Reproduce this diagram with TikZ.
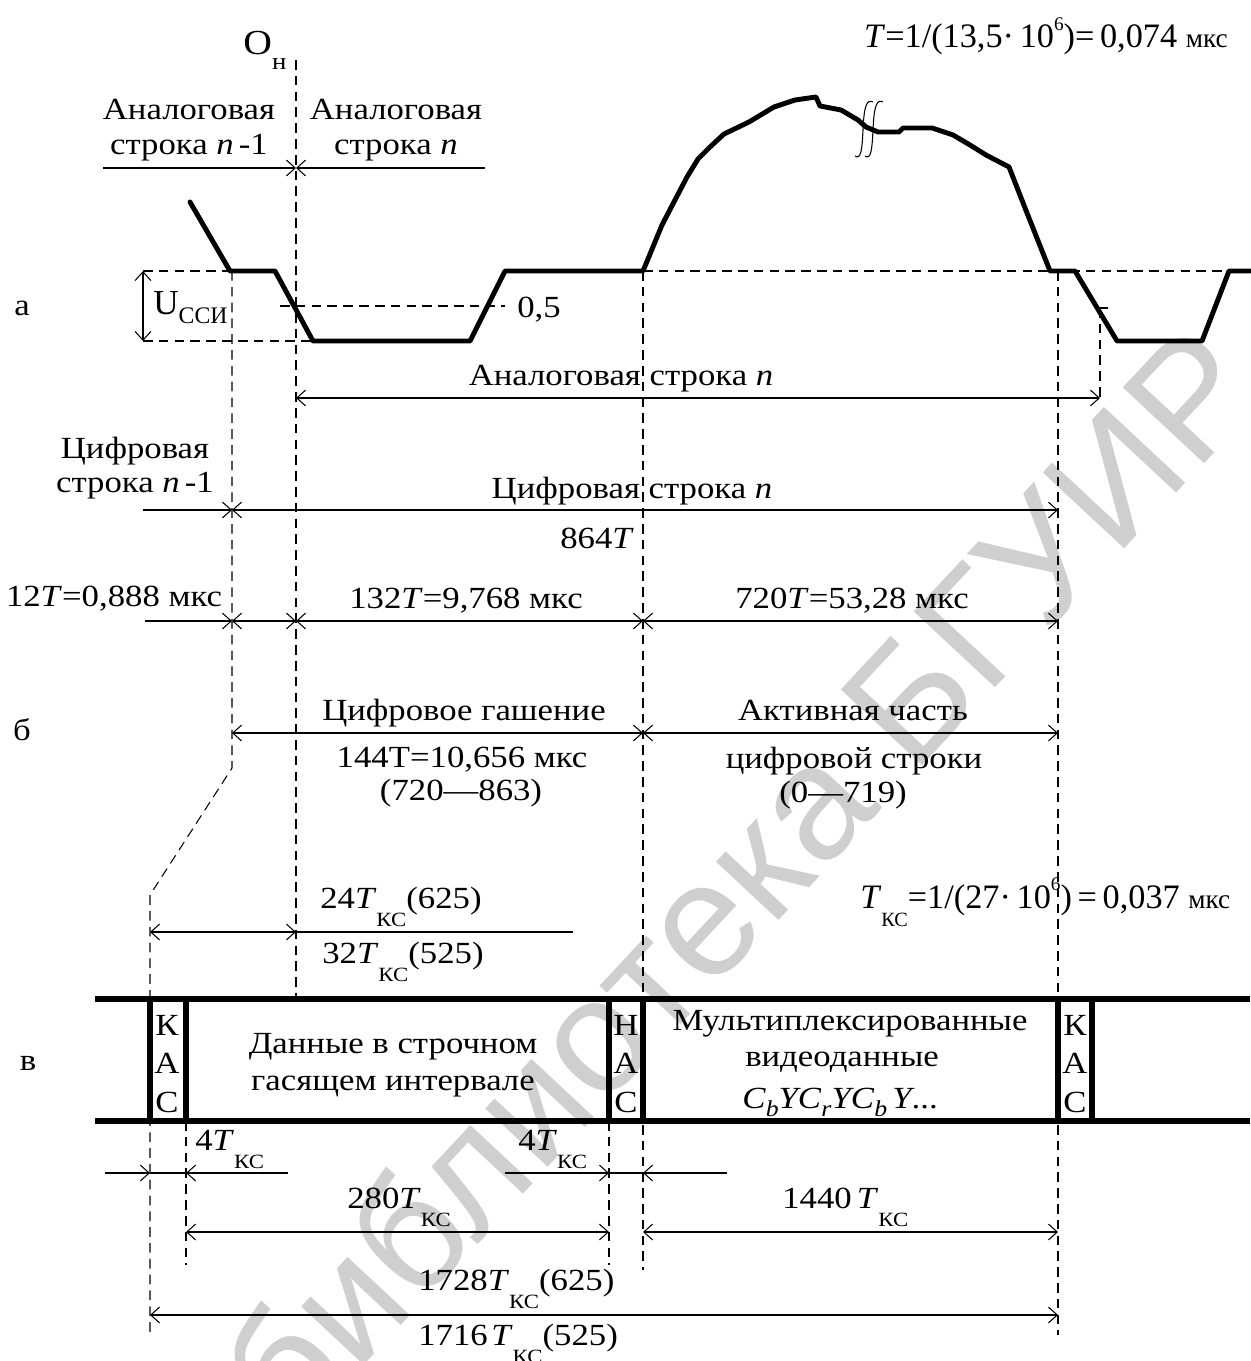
\documentclass[tikz,border=0pt]{standalone}
\usepackage{fontspec}
\setmainfont{Liberation Serif}[FakeStretch=1.13]
\newfontfamily\plainf{Liberation Serif}
\newfontfamily\wmfont{Liberation Sans}
\usetikzlibrary{arrows.meta}
\newcommand{\Tk}{\textit{T}\raisebox{-0.36cm}{\fontsize{11.5}{12}\selectfont КС}}
\newcommand{\supsix}{\raisebox{10pt}{\fontsize{11}{11}\selectfont 6}}
\newcommand{\mks}{{\fontsize{15.5}{15.5}\selectfont мкс}}
\tikzset{
  txt/.style={anchor=base, inner sep=0pt},
  txtw/.style={anchor=base west, inner sep=0pt},
  thin/.style={line width=0.6pt},
  tip/.tip={Straight Barb[length=5pt,width=9pt]},
  ar/.style={thin, -tip},
  arr/.style={thin, tip-tip},
  dsh/.style={line width=0.6pt, dash pattern=on 5.5pt off 3.5pt},
  wave/.style={line width=2.8pt, line join=round, line cap=round},
  blk/.style={line width=3.4pt},
  brk/.style={line width=0.6pt}
}
\begin{document}
\begin{tikzpicture}[x=0.02cm, y=-0.02cm, font=\fontsize{17.5}{20}\selectfont]
\useasboundingbox (0,0) rectangle (1250,1361);
\fill[white] (0,0) rectangle (1250,1361);
% watermark
\node[rotate=47, text=black!19, inner sep=0pt, font=\wmfont\fontsize{92}{92}\selectfont] (wm) at (738,878) {библиотека БГУИР};

% ---------- dashed guides
\coordinate (On) at (296,60);
\coordinate (OnB) at (296,999);
\draw[dsh] (On) -- (OnB);
\draw[dsh] (232,271) -- (232,768) -- (150,895) -- (150,1335);
\draw[dsh] (143,271) -- (232,271);
\draw[dsh] (143,341) -- (313,341);
\draw[dsh] (280,306) -- (505,306);
\draw[dsh] (643,271) -- (1250,271);
\draw[dsh] (643,271) -- (643,1270);
\draw[dsh] (1058,271) -- (1058,1335);
\draw[dsh] (1100,308) -- (1100,400);
\draw[thin] (1096,308) -- (1108,308);
\draw[dsh] (186,1121) -- (186,1265);
\draw[dsh] (609,1121) -- (609,1265);

% ---------- waveform (a)
\draw[wave] (190,202) -- (230,271) -- (275,271) -- (313,341) -- (470,341) -- (505,271) -- (643,271)
  -- (662,225) -- (675,200) -- (687,177) -- (698,159) -- (710,147) -- (724,134) -- (749,122)
  -- (774,107) -- (795,100) -- (816,97) -- (820,106) -- (841,110) -- (858,120) -- (866,127)
  -- (878,132) -- (899,132) -- (903,128) -- (932,128) -- (953,135) -- (970,145) -- (986,155)
  -- (1009,167) -- (1027,213) -- (1050,271) -- (1075,271) -- (1117,341) -- (1202,341)
  -- (1229,271) -- (1250,271);
\draw[brk] (855,156) .. controls (861,160) and (862,150) .. (863,130) .. controls (864,105) and (867,99) .. (873,102);
\draw[brk] (865,156) .. controls (871,160) and (872,150) .. (873,130) .. controls (874,105) and (877,99) .. (883,102);

% ---------- texts (a)
\node[inner sep=0pt, anchor=base east, font=\plainf\fontsize{19.5}{20}\selectfont] (Tf) at (1228,48) {\textit{T}=1/(13,5·\,10\supsix)=\,0,074 \mks};
\node[txtw] (Ol) at (243,55) {\fontsize{20}{20}\selectfont O\raisebox{-0.3cm}{\fontsize{13.5}{13}\selectfont н}};
\node[txt] (al1) at (189,120) {Аналоговая};
\node[txt] (al2) at (189,155) {строка \textit{n}\,-1};
\node[txt] (an1) at (396,120) {Аналоговая};
\node[txt] (an2) at (396,155) {строка \textit{n}};
\coordinate (hl) at (103,168); \coordinate (hm) at (296,168); \coordinate (hr) at (485,168);
\draw[ar] (hl) -- (hm);
\draw[ar] (hr) -- (hm);
\node[txt] (la) at (22,316) {а};
\coordinate (ut) at (143,271); \coordinate (ub) at (143,341);
\draw[arr] (ut) -- (ub);
\node[txtw] (uc) at (153,315) {\plainf\fontsize{20}{20}\selectfont U\raisebox{-0.17cm}{\fontsize{13.5}{13}\selectfont ССИ}};
\node[txt] (half) at (539,318) {0,5};
\node[txt] (ans) at (621,385) {Аналоговая строка \textit{n}};
\coordinate (as1) at (296,398); \coordinate (as2) at (1100,398);
\draw[arr] (as1) -- (as2);

% ---------- digital line
\node[txt] (cp1) at (135,458) {Цифровая};
\node[txt] (cp2) at (135,492) {строка \textit{n}\,-1};
\node[txt] (cn) at (632,498) {Цифровая строка \textit{n}};
\node[txt] (n864) at (597,548) {864\textit{T}};
\coordinate (d0) at (143,510); \coordinate (d1) at (232,510); \coordinate (d2) at (1058,510);
\draw[ar] (d0) -- (d1);
\draw[arr] (d1) -- (d2);

\node[txt] (t12) at (114,606) {12\textit{T}=0,888 мкс};
\node[txt] (t132) at (466,608) {132\textit{T}=9,768 мкс};
\node[txt] (t720) at (852,608) {720\textit{T}=53,28 мкс};
\coordinate (e0) at (145,621); \coordinate (e1) at (232,621); \coordinate (e2) at (296,621);
\coordinate (e3) at (643,621); \coordinate (e4) at (1058,621);
\draw[ar] (e0) -- (e1);
\draw[arr] (e1) -- (e2);
\draw[arr] (e2) -- (e3);
\draw[arr] (e3) -- (e4);

% ---------- (б)
\node[txt] (lb) at (22,740) {б};
\node[txt] (cg) at (464,720) {Цифровое гашение};
\node[txt] (cg2) at (462,767) {144T=10,656 мкс};
\node[txt] (cg3) at (461,800) {(720—863)};
\node[txt] (ac1) at (853,720) {Активная часть};
\node[txt] (ac2) at (854,768) {цифровой строки};
\node[txt] (ac3) at (843,802) {(0—719)};
\coordinate (f1) at (232,733); \coordinate (f2) at (643,733); \coordinate (f3) at (1058,733);
\draw[arr] (f1) -- (f2);
\draw[arr] (f2) -- (f3);

% ---------- (в)
\node[txtw] (k24) at (320,908) {24\Tk(625)};
\node[txtw] (k32) at (322,963) {32\Tk(525)};
\coordinate (g1) at (150,932); \coordinate (g2) at (296,932); \coordinate (g3) at (573,932);
\draw[arr] (g1) -- (g2);
\draw[thin] (g2) -- (g3);
\node[inner sep=0pt, anchor=base west, font=\plainf\fontsize{19.5}{20}\selectfont] (tkf) at (860,908) {\Tk=1/(27·\,10\supsix)\,=\,0,037 \mks};

\draw[blk] (95,999) -- (1250,999);
\draw[blk] (95,1121) -- (1250,1121);
\foreach \xx in {150,186,609,643,1058,1092} \draw[blk] (\xx,999) -- (\xx,1121);

\node[txt] (lv) at (28,1070) {в};
\node[txt] (k1a) at (167,1035) {К};
\node[txt] (k1b) at (167,1073) {А};
\node[txt] (k1c) at (167,1112) {С};
\node[txt] (dd1) at (393,1053) {Данные в строчном};
\node[txt] (dd2) at (393,1090) {гасящем интервале};
\node[txt] (h1a) at (626,1035) {Н};
\node[txt] (h1b) at (626,1073) {А};
\node[txt] (h1c) at (626,1112) {С};
\node[txt] (mv1) at (850,1030) {Мультиплексированные};
\node[txt] (mv2) at (842,1066) {видеоданные};
\node[txt] (mv3) at (840,1108) {\textit{C}\raisebox{-5pt}{\fontsize{13}{13}\selectfont\itshape b}\textit{YC}\raisebox{-5pt}{\fontsize{13}{13}\selectfont\itshape r}\textit{YC}\raisebox{-5pt}{\fontsize{13}{13}\selectfont\itshape b}\,\textit{Y}...};
\node[txt] (k2a) at (1075,1035) {К};
\node[txt] (k2b) at (1075,1073) {А};
\node[txt] (k2c) at (1075,1112) {С};

\node[txtw] (q4a) at (195,1150) {4\Tk};
\node[txtw] (q4b) at (518,1150) {4\Tk};
\coordinate (m0) at (105,1173); \coordinate (m1) at (150,1173); \coordinate (m2) at (186,1173); \coordinate (m3) at (288,1173);
\draw[ar] (m0) -- (m1);
\draw[thin] (m1) -- (m2);
\draw[ar] (m3) -- (m2);
\coordinate (p0) at (505,1173); \coordinate (p1) at (609,1173); \coordinate (p2) at (643,1173); \coordinate (p3) at (727,1173);
\draw[ar] (p0) -- (p1);
\draw[thin] (p1) -- (p2);
\draw[ar] (p3) -- (p2);

\node[txtw] (q280) at (347,1208) {280\Tk};
\node[txtw] (q1440) at (782,1208) {1440\,\Tk};
\coordinate (r1) at (186,1232); \coordinate (r2) at (609,1232); \coordinate (r3) at (643,1232); \coordinate (r4) at (1058,1232);
\draw[arr] (r1) -- (r2);
\draw[arr] (r3) -- (r4);

\node[txtw] (q1728) at (418,1290) {1728\Tk(625)};
\node[txtw] (q1716) at (418,1345) {1716\kern2pt\Tk(525)};
\coordinate (s1) at (150,1315); \coordinate (s2) at (1058,1315);
\draw[arr] (s1) -- (s2);
\end{tikzpicture}
\end{document}
